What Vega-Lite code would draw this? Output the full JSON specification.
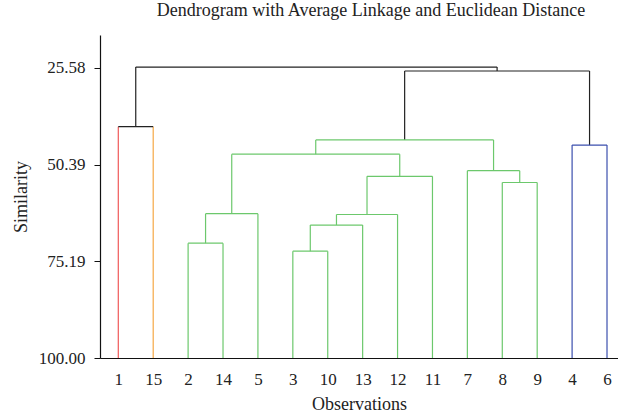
{
  "$schema": "https://vega.github.io/schema/vega-lite/v6.json",
  "width": 518,
  "height": 323,
  "autosize": {"type": "none"},
  "padding": {"left": 100, "top": 35, "right": 0, "bottom": 59},
  "title": {"text": "Dendrogram with Average Linkage and Euclidean Distance", "font": "Liberation Serif", "fontSize": 18, "fontWeight": "normal", "color": "#222", "anchor": "middle", "offset": 15, "dx": 12},
  "config": {"view": {"stroke": null}, "font": "Liberation Serif"},
  "layer": [
    {
      "data": {"values": [
        {"x": 1, "x2": 1, "y": 100, "y2": 40.67, "c": "red"},
        {"x": 2, "x2": 2, "y": 100, "y2": 40.67, "c": "orange"},
        {"x": 3, "x2": 3, "y": 100, "y2": 70.55, "c": "green"},
        {"x": 4, "x2": 4, "y": 100, "y2": 70.55, "c": "green"},
        {"x": 5, "x2": 5, "y": 100, "y2": 63.0, "c": "green"},
        {"x": 6, "x2": 6, "y": 100, "y2": 72.6, "c": "green"},
        {"x": 7, "x2": 7, "y": 100, "y2": 72.6, "c": "green"},
        {"x": 8, "x2": 8, "y": 100, "y2": 65.9, "c": "green"},
        {"x": 9, "x2": 9, "y": 100, "y2": 63.2, "c": "green"},
        {"x": 10, "x2": 10, "y": 100, "y2": 53.4, "c": "green"},
        {"x": 11, "x2": 11, "y": 100, "y2": 51.95, "c": "green"},
        {"x": 12, "x2": 12, "y": 100, "y2": 55.0, "c": "green"},
        {"x": 13, "x2": 13, "y": 100, "y2": 55.0, "c": "green"},
        {"x": 14, "x2": 14, "y": 100, "y2": 45.4, "c": "blue"},
        {"x": 15, "x2": 15, "y": 100, "y2": 45.4, "c": "blue"},
        {"x": 1.5, "x2": 1.5, "y": 40.67, "y2": 25.4, "c": "black"},
        {"x": 3.5, "x2": 3.5, "y": 70.55, "y2": 63.0, "c": "green"},
        {"x": 4.25, "x2": 4.25, "y": 63.0, "y2": 47.74, "c": "green"},
        {"x": 6.5, "x2": 6.5, "y": 72.6, "y2": 65.9, "c": "green"},
        {"x": 7.25, "x2": 7.25, "y": 65.9, "y2": 63.2, "c": "green"},
        {"x": 8.125, "x2": 8.125, "y": 63.2, "y2": 53.4, "c": "green"},
        {"x": 9.0625, "x2": 9.0625, "y": 53.4, "y2": 47.74, "c": "green"},
        {"x": 6.65625, "x2": 6.65625, "y": 47.74, "y2": 44.08, "c": "green"},
        {"x": 12.5, "x2": 12.5, "y": 55.0, "y2": 51.95, "c": "green"},
        {"x": 11.75, "x2": 11.75, "y": 51.95, "y2": 44.08, "c": "green"},
        {"x": 9.203125, "x2": 9.203125, "y": 44.08, "y2": 26.4, "c": "black"},
        {"x": 14.5, "x2": 14.5, "y": 45.4, "y2": 26.4, "c": "black"},
        {"x": 11.8515625, "x2": 11.8515625, "y": 26.4, "y2": 25.4, "c": "black"},
        {"x": 1, "x2": 2, "y": 40.67, "y2": 40.67, "c": "black"},
        {"x": 3, "x2": 4, "y": 70.55, "y2": 70.55, "c": "green"},
        {"x": 3.5, "x2": 5, "y": 63.0, "y2": 63.0, "c": "green"},
        {"x": 6, "x2": 7, "y": 72.6, "y2": 72.6, "c": "green"},
        {"x": 6.5, "x2": 8, "y": 65.9, "y2": 65.9, "c": "green"},
        {"x": 7.25, "x2": 9, "y": 63.2, "y2": 63.2, "c": "green"},
        {"x": 8.125, "x2": 10, "y": 53.4, "y2": 53.4, "c": "green"},
        {"x": 4.25, "x2": 9.0625, "y": 47.74, "y2": 47.74, "c": "green"},
        {"x": 12, "x2": 13, "y": 55.0, "y2": 55.0, "c": "green"},
        {"x": 11, "x2": 12.5, "y": 51.95, "y2": 51.95, "c": "green"},
        {"x": 6.65625, "x2": 11.75, "y": 44.08, "y2": 44.08, "c": "green"},
        {"x": 14, "x2": 15, "y": 45.4, "y2": 45.4, "c": "blue"},
        {"x": 9.203125, "x2": 14.5, "y": 26.4, "y2": 26.4, "c": "black"},
        {"x": 1.5, "x2": 11.8515625, "y": 25.4, "y2": 25.4, "c": "black"}
      ]},
      "mark": {"type": "rule", "strokeWidth": 1.2},
      "encoding": {
        "x": {"field": "x", "type": "quantitative",
          "scale": {"domain": [0.476, 15.315], "nice": false, "zero": false},
          "axis": {"values": [1,2,3,4,5,6,7,8,9,10,11,12,13,14,15],
            "labelExpr": "['1','15','2','14','5','3','10','13','12','11','7','8','9','4','6'][datum.value-1]",
            "ticks": false, "grid": false, "domainColor": "#111", "domainWidth": 1.2,
            "labelFont": "Liberation Serif", "labelFontSize": 17, "labelColor": "#222", "labelPadding": 13,
            "title": "Observations", "titleFont": "Liberation Serif", "titleFontSize": 18, "titleFontWeight": "normal", "titleColor": "#222", "titlePadding": 8}},
        "x2": {"field": "x2"},
        "y": {"field": "y", "type": "quantitative",
          "scale": {"domain": [17.17, 100], "reverse": true, "nice": false, "zero": false},
          "axis": {"values": [25.58, 50.39, 75.19, 100], "format": ".2f",
            "grid": false, "tickSize": 6, "tickColor": "#111", "domainColor": "#111", "domainWidth": 1.2,
            "labelFont": "Liberation Serif", "labelFontSize": 17, "labelColor": "#222", "labelPadding": 9,
            "title": "Similarity", "titleFont": "Liberation Serif", "titleFontSize": 18, "titleFontWeight": "normal", "titleColor": "#222", "titlePadding": 8}},
        "y2": {"field": "y2"},
        "color": {"field": "c", "type": "nominal", "legend": null,
          "scale": {"domain": ["red", "orange", "green", "blue", "black"], "range": ["#f05858", "#f5a845", "#6cc86c", "#3b4fae", "#222222"]}}
      }
    },
    {
      "mark": {"type": "rule", "color": "#111", "strokeWidth": 1.2},
      "encoding": {"y": {"datum": 17.17}}
    }
  ]
}
